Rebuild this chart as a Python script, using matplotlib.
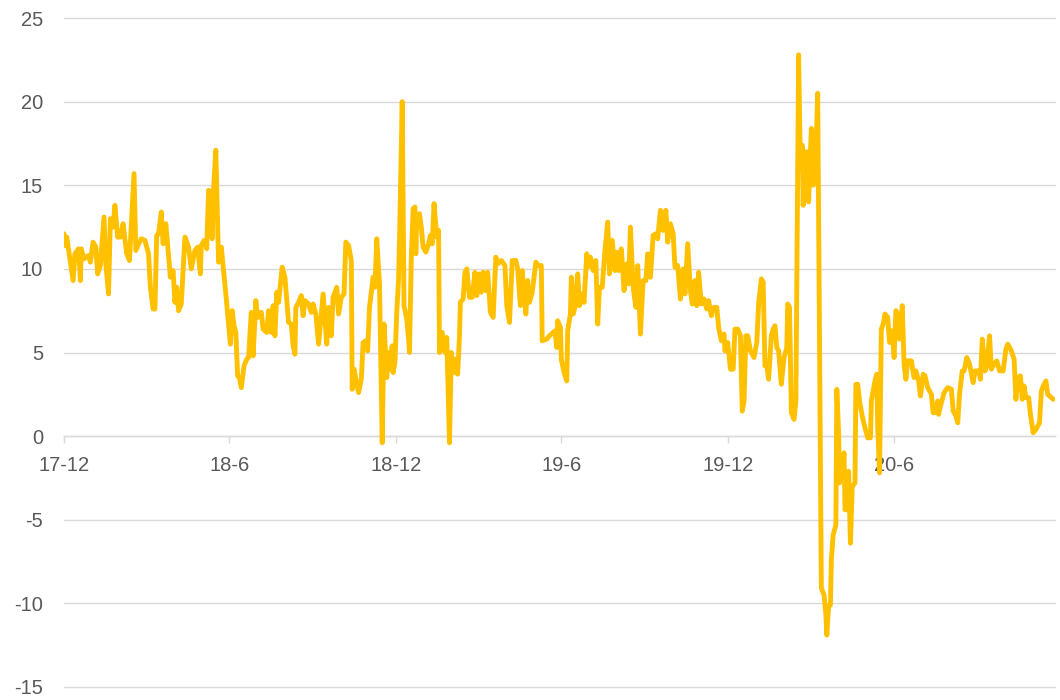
import numpy as np
import matplotlib
matplotlib.use('Agg')
import matplotlib.pyplot as plt

# days counted from 2017-12-01, and the value on that day
start = np.datetime64('2017-12-01')
days = [0, 1, 3, 10, 12, 16, 18, 19, 22, 27,
        29, 32, 35, 37, 40, 44, 46, 49, 51, 54,
        56, 59, 62, 65, 69, 72, 77, 79, 82, 85,
        89, 93, 95, 98, 100, 102, 104, 107, 109, 112,
        117, 120, 122, 124, 126, 129, 133, 137, 140, 144,
        147, 150, 151, 154, 157, 159, 161, 163, 164, 167,
        170, 173, 178, 183, 185, 187, 189, 191, 193, 195,
        198, 201, 203, 206, 208, 211, 213, 217, 219, 223,
        225, 228, 230, 232, 234, 236, 240, 243, 247, 250,
        252, 254, 255, 258, 261, 263, 265, 269, 272, 274,
        277, 280, 285, 289, 291, 294, 296, 300, 302, 305,
        308, 310, 313, 316, 317, 319, 321, 324, 327, 329,
        332, 334, 336, 340, 342, 344, 347, 350, 352, 355,
        357, 358, 361, 362, 364, 366, 368, 369, 372, 374,
        377, 379, 380, 382, 384, 386, 387, 388, 391, 393,
        395, 398, 401, 403, 405, 407, 410, 412, 413, 416,
        419, 421, 424, 426, 429, 431, 433, 435, 436, 439,
        441, 443, 446, 449, 452, 454, 457, 459, 461, 464,
        466, 469, 472, 475, 477, 481, 485, 487, 490, 493,
        497, 499, 502, 504, 508, 510, 512, 515, 519, 521,
        525, 526, 531, 534, 538, 540, 542, 543, 546, 547,
        550, 553, 554, 557, 558, 560, 562, 565, 567, 570,
        572, 575, 576, 579, 582, 585, 587, 589, 592, 595,
        598, 600, 603, 606, 608, 610, 613, 616, 619, 621,
        623, 626, 629, 631, 634, 637, 640, 642, 645, 648,
        651, 653, 656, 659, 662, 664, 667, 670, 672, 675,
        678, 681, 683, 686, 689, 691, 694, 696, 698, 701,
        704, 707, 709, 712, 715, 718, 720, 723, 726, 727,
        730, 733, 736, 738, 741, 744, 746, 748, 750, 752,
        755, 759, 762, 764, 767, 769, 771, 773, 775, 778,
        780, 782, 784, 786, 789, 792, 795, 796, 798, 800,
        803, 805, 808, 810, 812, 813, 815, 817, 819, 820,
        822, 824, 826, 827, 829, 833, 836, 838, 839, 841,
        843, 844, 846, 849, 850, 852, 853, 855, 858, 859,
        862, 863, 865, 867, 870, 871, 873, 875, 878, 881,
        884, 887, 888, 892, 894, 895, 897, 899, 901, 903,
        906, 908, 911, 913, 915, 917, 919, 922, 924, 926,
        928, 932, 935, 937, 940, 942, 945, 947, 950, 954,
        956, 958, 961, 962, 964, 968, 972, 976, 978, 981,
        983, 985, 988, 990, 993, 996, 1000, 1002, 1006, 1008,
        1010, 1013, 1015, 1018, 1020, 1023, 1026, 1029, 1033, 1036,
        1038, 1042, 1045, 1047, 1049, 1052, 1054, 1056, 1058, 1061,
        1063, 1066, 1069, 1073, 1075, 1078, 1080, 1082, 1084, 1088]
values = [12.1, 11.4, 11.9, 9.3, 10.9, 11.2, 9.3, 11.2, 10.6, 10.8,
          10.4, 11.6, 11.3, 9.7, 10.2, 13.1, 10.3, 8.5, 13.0, 12.5,
          13.8, 11.9, 11.9, 12.7, 10.9, 10.5, 15.7, 11.1, 11.5, 11.8,
          11.7, 10.9, 8.9, 7.6, 7.6, 12.0, 12.1, 13.4, 11.5, 12.7,
          9.5, 9.9, 8.0, 8.9, 7.5, 7.9, 11.9, 11.3, 10.0, 11.1,
          11.3, 9.7, 11.4, 11.7, 11.2, 14.7, 14.6, 11.8, 14.3, 17.1,
          10.4, 11.3, 8.5, 5.5, 7.5, 6.6, 6.2, 3.6, 3.5, 2.9,
          4.2, 4.6, 4.7, 7.4, 4.8, 8.1, 7.1, 7.4, 6.4, 6.2,
          7.5, 6.2, 7.8, 6.0, 8.6, 8.0, 10.1, 9.5, 6.8, 6.7,
          5.4, 4.9, 7.7, 8.0, 8.4, 7.2, 8.1, 7.9, 7.4, 7.9,
          7.3, 5.5, 8.5, 5.5, 7.7, 6.0, 8.3, 8.9, 7.3, 8.3,
          8.5, 11.6, 11.4, 10.5, 2.8, 4.0, 3.4, 2.6, 3.4, 5.6,
          5.7, 5.1, 7.7, 9.5, 8.9, 11.8, 9.1, -0.4, 6.7, 3.5,
          5.0, 4.0, 5.4, 3.8, 4.4, 7.4, 9.4, 11.7, 20.0, 7.8,
          7.0, 5.8, 5.0, 10.7, 13.6, 13.7, 10.9, 13.1, 13.3, 12.5,
          11.3, 11.0, 11.5, 12.0, 11.5, 13.9, 11.9, 12.3, 5.0, 6.2,
          5.0, 5.9, -0.4, 5.0, 3.8, 4.6, 3.7, 6.0, 8.0, 8.2,
          9.8, 10.0, 8.3, 8.3, 9.8, 8.4, 9.7, 8.6, 9.8, 8.7,
          9.8, 7.4, 7.1, 10.7, 10.3, 10.5, 10.2, 7.8, 6.8, 10.5,
          10.5, 10.0, 7.8, 9.9, 7.3, 9.3, 8.0, 8.6, 10.4, 10.2,
          10.2, 5.7, 5.8, 6.0, 6.2, 6.3, 5.3, 6.9, 6.5, 4.6,
          3.8, 3.3, 6.3, 7.3, 9.5, 7.3, 7.7, 9.7, 7.8, 8.5,
          8.0, 10.9, 10.1, 10.7, 9.9, 10.5, 6.7, 8.9, 8.9, 11.1,
          12.8, 9.7, 11.7, 9.9, 11.0, 9.9, 11.2, 8.7, 10.3, 9.1,
          12.5, 8.9, 7.7, 10.2, 6.1, 9.3, 9.3, 10.9, 9.5, 12.0,
          12.1, 11.8, 13.5, 12.3, 13.5, 11.6, 12.7, 12.1, 10.1, 10.2,
          8.2, 10.0, 8.5, 11.5, 8.7, 7.9, 9.3, 7.8, 9.8, 7.9,
          8.2, 7.6, 8.1, 7.2, 7.7, 7.7, 6.5, 5.7, 6.1, 5.1,
          5.6, 4.0, 4.0, 6.4, 6.4, 6.0, 1.5, 2.1, 6.0, 6.0,
          5.1, 4.7, 5.6, 7.9, 9.4, 9.2, 4.2, 4.2, 3.4, 6.0,
          6.4, 6.6, 5.3, 5.1, 3.1, 4.7, 5.3, 7.9, 7.7, 1.4,
          1.0, 2.1, 22.8, 16.0, 17.4, 13.8, 17.0, 17.0, 14.0, 15.6,
          18.4, 15.0, 18.1, 17.0, 20.5, -9.1, -9.5, -10.7, -11.9, -10.2,
          -10.1, -7.4, -5.9, -5.3, 2.8, 0.2, -2.8, -2.1, -1.0, -4.4,
          -4.4, -2.1, -6.4, -3.0, -2.8, 3.1, 3.1, 2.1, 1.2, 0.5,
          -0.1, -0.1, 2.1, 3.3, 3.7, 0.5, -2.2, 6.4, 6.7, 7.3,
          7.1, 5.6, 6.3, 4.7, 7.5, 7.3, 5.8, 7.8, 4.3, 3.4,
          4.5, 4.5, 3.5, 3.9, 3.3, 2.4, 3.7, 3.6, 2.9, 2.5,
          1.4, 1.4, 2.1, 1.3, 1.8, 2.6, 2.9, 2.8, 1.5, 1.2,
          0.8, 2.5, 3.9, 3.9, 4.7, 4.3, 3.2, 3.9, 3.9, 3.4,
          5.8, 3.9, 4.2, 6.0, 4.0, 4.3, 4.5, 3.9, 3.9, 5.2,
          5.5, 5.1, 4.6, 2.2, 3.5, 3.6, 2.2, 3.0, 2.3, 2.3,
          1.3, 0.2, 0.4, 0.8, 2.7, 3.1, 3.3, 2.5, 2.4, 2.2]

tick_dates = ['2017-12-01', '2018-06-01', '2018-12-01',
              '2019-06-01', '2019-12-01', '2020-06-01']
tick_labels = ['17-12', '18-6', '18-12', '19-6', '19-12', '20-6']
y_ticks = [-15, -10, -5, 0, 5, 10, 15, 20, 25]

dates = start + np.array(days, dtype='timedelta64[D]')

plt.rcParams['font.family'] = ['Liberation Sans', 'DejaVu Sans']
plt.rcParams['axes.unicode_minus'] = False

fig = plt.figure(figsize=(10.6, 7.0), dpi=100)
ax = fig.add_axes([64 / 1060, 13 / 700, 991 / 1060, 669 / 700])

ax.plot(dates, values, color='#FFC000', lw=3.5, solid_joinstyle='round',
        solid_capstyle='round', zorder=3)

ax.set_ylim(-15, 25)
ax.set_xlim(start, start + np.timedelta64(1090, 'D'))
ax.set_yticks(y_ticks)
ax.set_xticks(np.array(tick_dates, dtype='datetime64[D]'))
ax.set_xticklabels(tick_labels)

ax.yaxis.grid(True, color='#D9D9D9', lw=1.0)
ax.set_axisbelow(True)
for g in ax.get_ygridlines():
    g.set_clip_on(False)

for s in ['left', 'right', 'top']:
    ax.spines[s].set_visible(False)
ax.spines['bottom'].set_position(('data', 0))
ax.spines['bottom'].set_color('#D9D9D9')
ax.spines['bottom'].set_linewidth(1.0)

ax.tick_params(axis='y', length=0, pad=15, labelsize=14.5, labelcolor='#595959')
ax.tick_params(axis='x', length=5, width=1, color='#D9D9D9', pad=9,
               labelsize=14.5, labelcolor='#595959')

fig.savefig('out.png', dpi=100)
